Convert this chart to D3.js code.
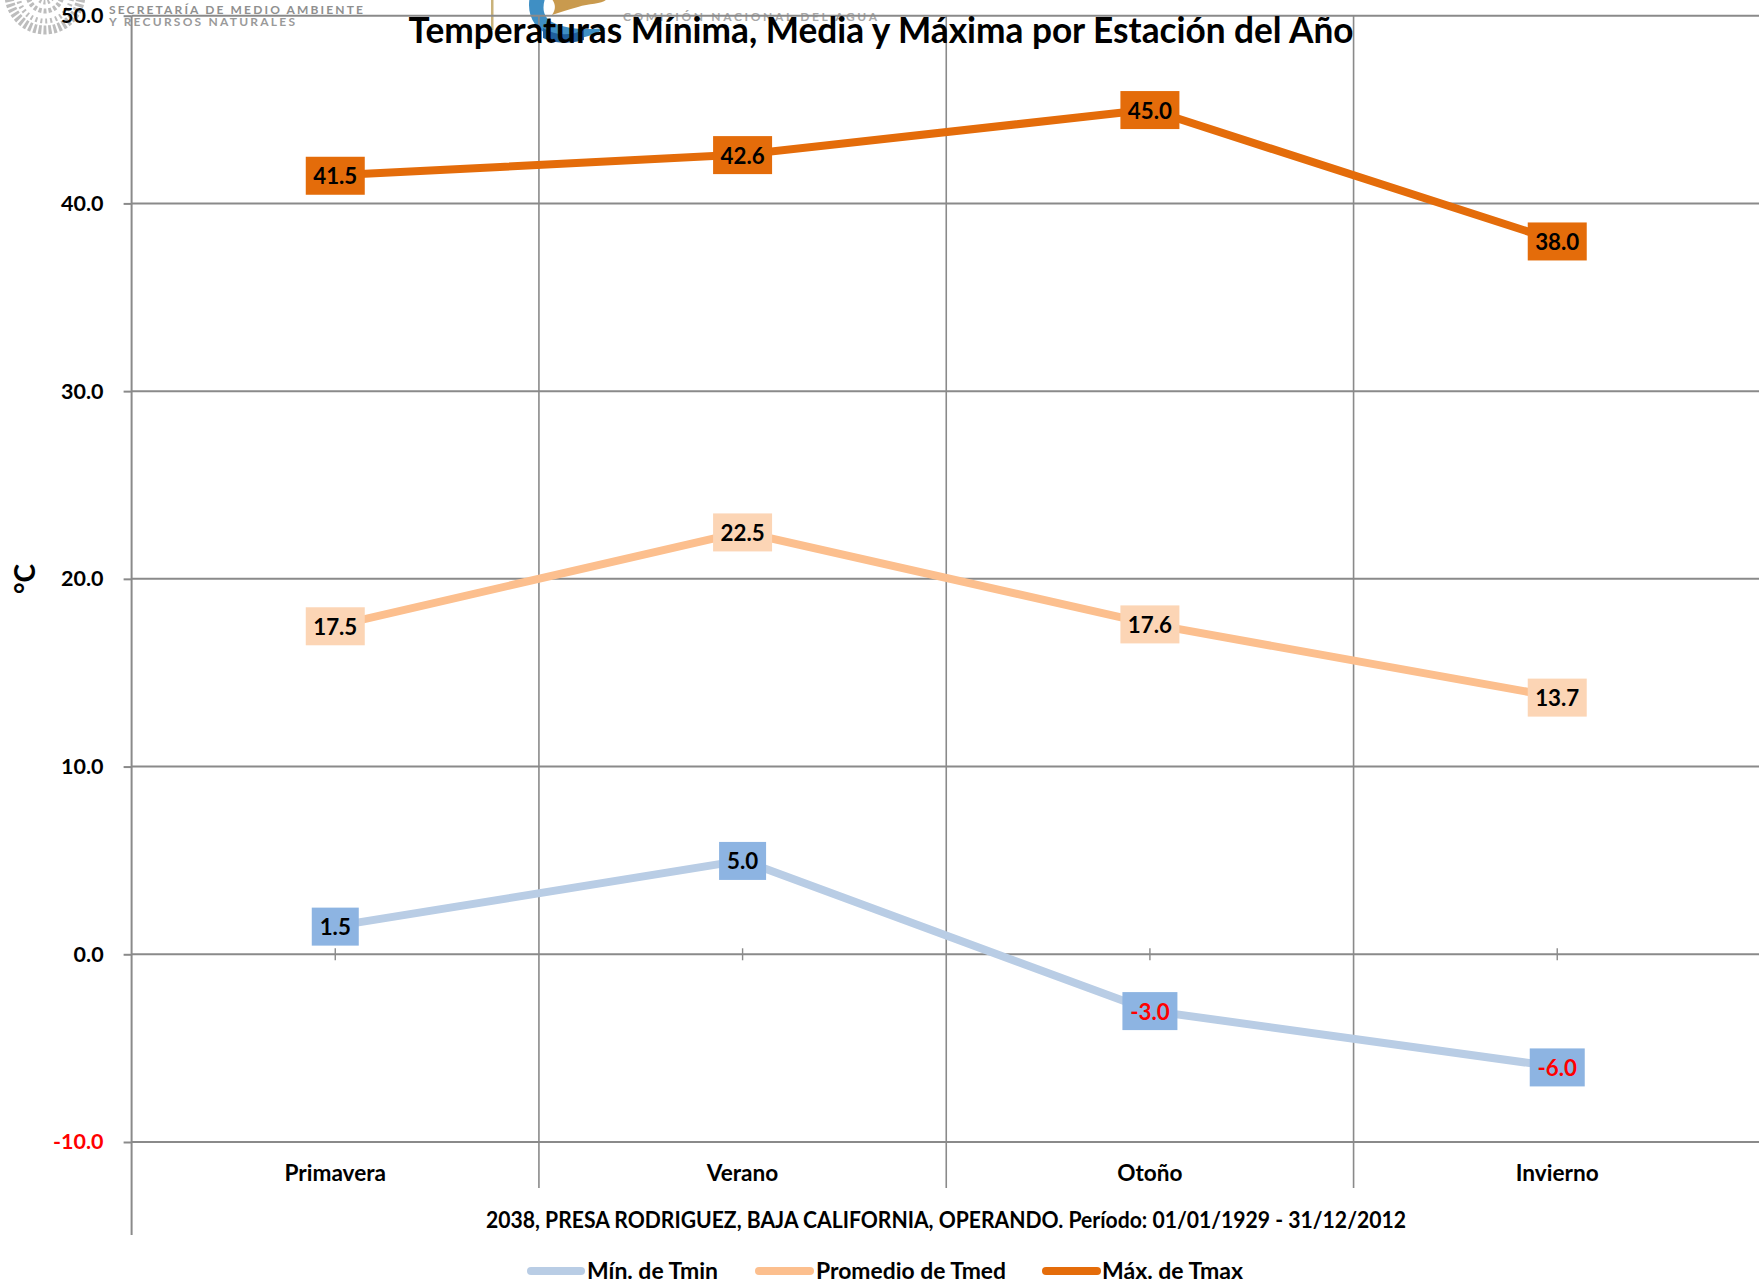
<!DOCTYPE html>
<html><head><meta charset="utf-8">
<script src="https://cdn.jsdelivr.net/npm/d3@7"></script>
<style>html,body{margin:0;padding:0;background:#fff;overflow:hidden}text{font-family:Lato,"Open Sans",sans-serif;font-weight:700}</style>
</head><body><svg id="c" width="1759" height="1284"></svg>
<script>
const seasons = ["Primavera","Verano","Otoño","Invierno"];
const tmin = [1.5,5.0,-3.0,-6.0];
const tmed = [17.5,22.5,17.6,13.7];
const tmax = [41.5,42.6,45.0,38.0];
const yTicks = [-10,0,10,20,30,40,50];
const seriesNames = ["Mín. de Tmin","Promedio de Tmed","Máx. de Tmax"];
const titleText = "Temperaturas Mínima, Media y Máxima por Estación del Año";
const subtitleText = "2038, PRESA RODRIGUEZ, BAJA CALIFORNIA, OPERANDO. Período: 01/01/1929 - 31/12/2012";

const svg = d3.select("#c");
const GRID="#8a8a8a";
const x = d3.scaleBand().domain(seasons).range([131.6,1760.9]);
const y = d3.scaleLinear().domain([-10,50]).range([1142,15.7]);
const fmt = v => d3.format(".1f")(v).replace("\u2212","-");
const fit = (sel,w)=>sel.attr("textLength",w).attr("lengthAdjust","spacingAndGlyphs");
const spaced = (sel,w)=>sel.attr("textLength",w).attr("lengthAdjust","spacing");

// faded logos of the page header
const logo = svg.append("g");
const em = logo.append("g").attr("fill","none").attr("stroke","#bdbdbd");
[[45,-6,36,9,"3 2"],[45,-6,27,5,"2 3"],[45,-6,17,5,"3 2"],[45,-6,8,5,"2 2"]].forEach(d=>
  em.append("circle").attr("cx",d[0]).attr("cy",d[1]).attr("r",d[2]).attr("stroke-width",d[3]).attr("stroke-dasharray",d[4]));
logo.append("text").attr("x",109).attr("y",14).attr("fill","#8f8f8f").attr("font-size",12).call(spaced,254).text("SECRETARÍA DE MEDIO AMBIENTE");
logo.append("text").attr("x",109).attr("y",26).attr("fill","#9a9a9a").attr("font-size",12).call(spaced,186).text("Y RECURSOS NATURALES");
logo.append("rect").attr("x",491).attr("y",0).attr("width",2.5).attr("height",30).attr("fill","#c9b27a");
logo.append("path").attr("d","M530 -4 C526 14 534 30 552 36 C570 42 590 38 606 28 C590 30 566 30 552 22 C542 16 542 6 546 -4Z").attr("fill","#3f8fc4");
logo.append("path").attr("d","M551 -2 L607 -2 C606 4 590 3 578 7 C568 10 560 12 552 15 C556 9 556 4 551 -2Z").attr("fill","#c99a4e");
logo.append("path").attr("d","M543 28 C556 36 570 36 584 30 L584 40 C570 44 556 44 543 38Z").attr("fill","#1f5f9c");
logo.append("text").attr("x",623).attr("y",21).attr("fill","#a8a8a8").attr("font-size",12).call(spaced,254).text("COMISIÓN NACIONAL DEL AGUA");

// gridlines
const grid = svg.append("g");
grid.selectAll("line.h").data(yTicks).join("line").attr("class","h")
  .attr("x1",x.range()[0]).attr("x2",1759).attr("y1",d=>y(d)).attr("y2",d=>y(d))
  .attr("stroke",GRID).attr("stroke-width",2);
grid.selectAll("line.v").data(seasons.slice(1)).join("line").attr("class","v")
  .attr("x1",d=>x(d)).attr("x2",d=>x(d)).attr("y1",y(50)).attr("y2",1188)
  .attr("stroke",GRID).attr("stroke-width",1.6);

// y axis
const yAxis = svg.append("g").attr("transform",`translate(${x.range()[0]},0)`)
  .call(d3.axisLeft(y).tickValues(yTicks).tickFormat(fmt).tickSize(8).tickPadding(20));
yAxis.select(".domain").remove();
yAxis.selectAll("line").attr("stroke",GRID).attr("stroke-width",2);
yAxis.selectAll("text").attr("font-size",21.5).attr("fill",d=>d<0?"#ff0000":"#000").attr("style","font-family:Lato;font-weight:700");
svg.append("line").attr("x1",x.range()[0]).attr("x2",x.range()[0]).attr("y1",y(50)).attr("y2",1235).attr("stroke",GRID).attr("stroke-width",2);

// category ticks and labels
svg.append("g").selectAll("line").data(seasons).join("line")
  .attr("x1",d=>x(d)+x.bandwidth()/2).attr("x2",d=>x(d)+x.bandwidth()/2)
  .attr("y1",y(0)-6).attr("y2",y(0)+6).attr("stroke",GRID).attr("stroke-width",1.4);
svg.append("g").selectAll("text").data(seasons).join("text")
  .attr("x",d=>x(d)+x.bandwidth()/2).attr("y",1181).attr("text-anchor","middle")
  .attr("font-size",22.6).attr("fill","#000").text(d=>d);

// series
const series = [
  {name:seriesNames[0],values:tmin,line:"#b9cde5",box:"#8db4e2"},
  {name:seriesNames[1],values:tmed,line:"#fcbf8e",box:"#fcd5b5"},
  {name:seriesNames[2],values:tmax,line:"#e46c0a",box:"#e46c0a"}
];
const line = d3.line().x((d,i)=>x(seasons[i])+x.bandwidth()/2).y(d=>y(d));
series.forEach(s=>{
  svg.append("path").attr("d",line(s.values)).attr("fill","none").attr("stroke",s.line).attr("stroke-width",8).attr("stroke-linejoin","round");
});
series.forEach((s,si)=>{
  const g = svg.append("g");
  const bw = v => si>0 ? 59 : (v<0 ? 55 : 47);
  s.values.forEach((v,i)=>{
    const cx = x(seasons[i])+x.bandwidth()/2, cy = y(v);
    g.append("rect").attr("x",cx-bw(v)/2).attr("y",cy-18.5).attr("width",bw(v)).attr("height",38).attr("fill",s.box);
    g.append("text").attr("x",cx).attr("y",cy+9).attr("text-anchor","middle").attr("font-size",22.3)
      .attr("fill",v<0?"#ff0000":"#000").text(fmt(v));
  });
});

// title, y title, subtitle
svg.append("text").attr("x",408.5).attr("y",42.5).attr("font-size",36).attr("fill","#000").call(fit,945).text(titleText);
svg.append("text").attr("transform","translate(35,579) rotate(-90)").attr("text-anchor","middle").attr("font-size",28).attr("fill","#000").text("°C");
svg.append("text").attr("x",486).attr("y",1227.5).attr("font-size",22).attr("fill","#000").call(fit,920).text(subtitleText);

// legend
const legendX = [[527,585,587,131],[755,814,816,190],[1042,1101,1102,141]];
series.forEach((s,i)=>{
  const p = legendX[i];
  svg.append("line").attr("x1",p[0]+4).attr("x2",p[1]-4).attr("y1",1271).attr("y2",1271)
    .attr("stroke",s.line).attr("stroke-width",8).attr("stroke-linecap","round");
  svg.append("text").attr("x",p[2]).attr("y",1278.5).attr("font-size",22.5).attr("fill","#000").call(fit,p[3]).text(s.name);
});
</script></body></html>
